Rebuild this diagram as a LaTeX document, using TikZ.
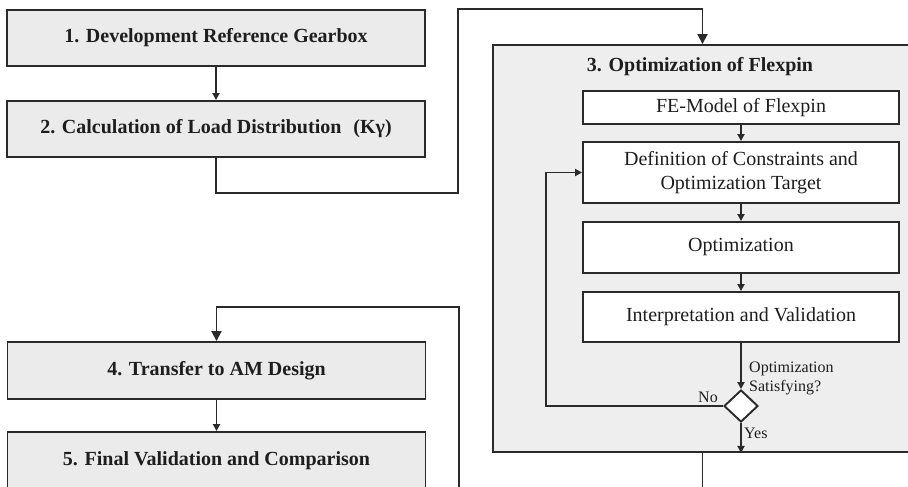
\documentclass[tikz,border=0pt]{standalone}
\usepackage{fontspec}
\setmainfont{Liberation Serif}
\usetikzlibrary{arrows.meta,shapes.geometric}

\definecolor{linegray}{HTML}{2A2A2A}
\definecolor{boxfill}{HTML}{EBEBEB}
\definecolor{panelfill}{HTML}{EEEEEE}
\definecolor{textgray}{HTML}{1E1E1E}

\tikzset{
  mainbox/.style={draw=linegray, line width=1.9pt, fill=boxfill,
    minimum width=418pt, minimum height=56pt, inner sep=0pt,
    text=textgray, font=\fontsize{20}{22}\selectfont\bfseries},
  subbox/.style={draw=linegray, line width=1.9pt, fill=white,
    minimum width=316pt, inner sep=0pt, align=center,
    text=textgray, font=\fontsize{20}{24}\selectfont},
  panel/.style={draw=linegray, line width=1.9pt, fill=panelfill,
    minimum width=419pt, minimum height=407pt, inner sep=0pt},
  decision/.style={draw=linegray, line width=1.9pt, fill=white, diamond,
    minimum width=34pt, minimum height=32pt, inner sep=0pt},
  smalltext/.style={text=textgray, inner sep=0pt,
    font=\fontsize{16}{19}\selectfont},
  bigarrow/.style={draw=linegray, line width=1.9pt,
    -{Triangle[length=10pt,width=10pt]}},
  arrow/.style={draw=linegray, line width=1.9pt,
    -{Triangle[length=7pt,width=7pt]}}
}

\begin{document}
\begin{tikzpicture}[x=1pt, y=-1pt]
\useasboundingbox (0,0) rectangle (908,487);
\clip (0,0) rectangle (908,487);

% left column of process steps
\node[mainbox] (b1) at (216,38)    {1. Development Reference Gearbox};
\node[mainbox] (b2) at (216,129)   {2. Calculation of Load Distribution\hspace{0.35em} (Kγ)};
\node[mainbox, minimum height=57pt] (b4) at (216.5,370.5) {4. Transfer to AM Design};
\node[mainbox, minimum height=57pt] (b5) at (216.5,460.5) {5. Final Validation and Comparison};

% flexpin optimisation panel
\node[panel] (flex) at (702.5,248.5) {};
\node[text=textgray, font=\fontsize{20}{22}\selectfont\bfseries] (title) at (700,67) {3. Optimization of Flexpin};

\node[subbox, minimum height=33pt] (fe)  at (741,107.5) {FE-Model of Flexpin};
\node[subbox, minimum height=61pt] (def) at (741,172.5) {Definition of Constraints and\\Optimization Target};
\node[subbox, minimum height=51pt] (opt) at (741,247.5) {Optimization};
\node[subbox, minimum height=50pt] (int) at (741,317)   {Interpretation and Validation};
\node[decision] (dia) at (741,406) {};

\node[smalltext, anchor=west, align=left] (q) at (749,378.5) {Optimization\\Satisfying?};
\node[smalltext] (no) at (708,397) {No};
\node[smalltext, anchor=west] (yes) at (744,433) {Yes};

% connectors
\draw[arrow] (b1.south) -- (b2.north);
\coordinate (up1) at (458,193);
\coordinate (up2) at (458,9);
\draw[bigarrow] (b2.south) |- (up1) -- (up2) -| (flex.north);

\draw[arrow] (fe.south)  -- (def.north);
\draw[arrow] (def.south) -- (opt.north);
\draw[arrow] (opt.south) -- (int.north);
\draw[arrow] (int.south) -- (dia.north);

\coordinate (loop) at (546,172.5);
\draw[arrow] (dia.west) -| (loop) -- (def.west);
\draw[arrow] (dia.south) -- (dia.south |- flex.south);

\coordinate (down1) at (459,530);
\coordinate (down2) at (459,307);
\draw[bigarrow] (flex.south) |- (down1) -- (down2) -| (b4.north);
\draw[arrow] (b4.south) -- (b5.north);
\end{tikzpicture}
\end{document}
